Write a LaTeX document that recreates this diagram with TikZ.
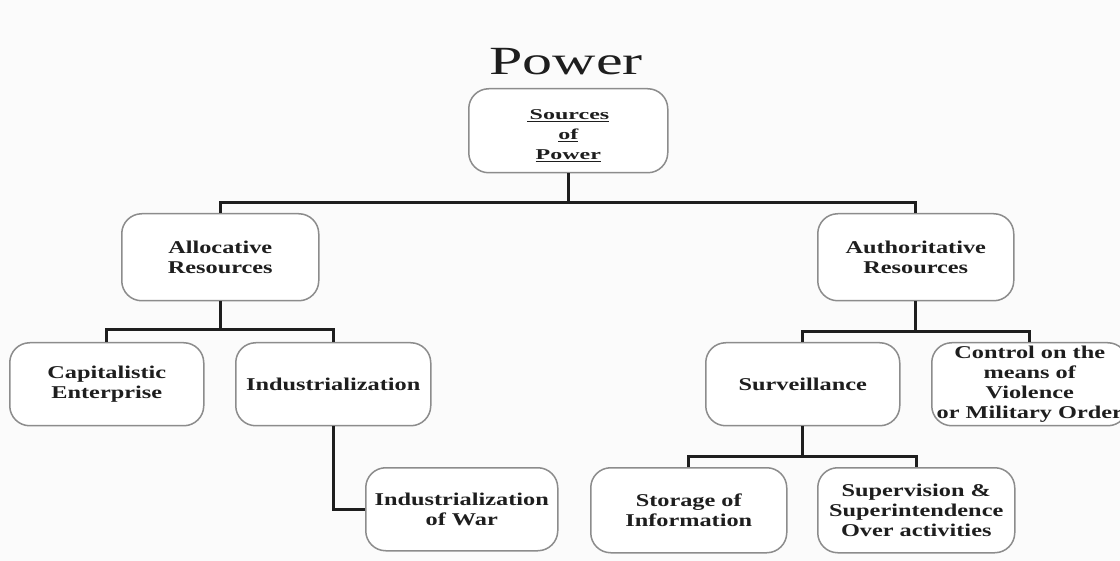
\documentclass[tikz,border=0pt]{standalone}
\usepackage{fontspec}
\setmainfont{Liberation Serif}
\newfontfamily\boxfont{Liberation Serif}[FakeStretch=1.35]
\newfontfamily\srcfont{Liberation Serif}[FakeStretch=1.6]
\newfontfamily\titlefont{Liberation Serif}[FakeStretch=1.5]
\definecolor{bg}{HTML}{FBFBFB}
\definecolor{boxline}{HTML}{8C8C8C}
\definecolor{ink}{HTML}{1E1E1E}
\tikzset{
  box/.style={draw=boxline, line width=1.5pt, rounded corners=20pt, fill=white,
    anchor=north west, inner sep=0pt, align=center, text=ink,
    font=\boxfont\bfseries\fontsize{18}{20}\selectfont},
  conn/.style={draw=ink, line width=3pt},
}
\begin{document}
\begin{tikzpicture}[x=1pt,y=-1pt]
\clip (0,0) rectangle (1120,561);
\fill[bg] (0,0) rectangle (1120,561);
\node[anchor=base, text=ink, font=\titlefont\fontsize{40}{44}\selectfont] (title) at (566,75) {Power};
\node[box, minimum width=199pt, minimum height=84pt, font=\srcfont\bfseries\fontsize{15}{20}\selectfont] (src) at (468,88) {\rule{0pt}{19pt}\underline{\,Sources}\\\underline{of}\\\underline{Power}};
\node[box, minimum width=197pt, minimum height=87pt] (alloc) at (121,213) {Allocative\\Resources};
\node[box, minimum width=196pt, minimum height=87pt] (auth) at (817,213) {Authoritative\\Resources};
\node[box, minimum width=194pt, minimum height=83pt] (cap) at (9,342) {Capitalistic\\Enterprise};
\node[box, minimum width=195pt, minimum height=83pt] (ind) at (235,342) {Industrialization};
\node[box, minimum width=192pt, minimum height=83pt] (indwar) at (365,467) {Industrialization\\of War};
\node[box, minimum width=194pt, minimum height=83pt] (surv) at (705,342) {Surveillance};
\node[box, minimum width=196pt, minimum height=83pt] (ctrl) at (931,342) {Control on the\\means of\\Violence\\or Military Order};
\node[box, minimum width=196pt, minimum height=85pt] (stor) at (590,467) {Storage of\\Information};
\node[box, minimum width=197pt, minimum height=85pt] (sup) at (817,467) {Supervision \&\\Superintendence\\Over activities};
\coordinate (bus1) at (0,203);
\coordinate (bus2) at (0,330);
\coordinate (bus3) at (0,332);
\coordinate (bus4) at (0,456);
\draw[conn] (src.south) -- (src.south |- bus1);
\draw[conn] (alloc.north) |- (auth.north |- bus1) -- (auth.north);
\draw[conn] (alloc.south) -- (alloc.south |- bus2);
\draw[conn] (cap.north) |- (ind.north |- bus2) -- (ind.north);
\draw[conn] (ind.south) |- (indwar.west);
\draw[conn] (auth.south) -- (auth.south |- bus3);
\draw[conn] (surv.north) |- (ctrl.north |- bus3) -- (ctrl.north);
\draw[conn] (surv.south) -- (surv.south |- bus4);
\draw[conn] (stor.north) |- (sup.north |- bus4) -- (sup.north);
\end{tikzpicture}
\end{document}
